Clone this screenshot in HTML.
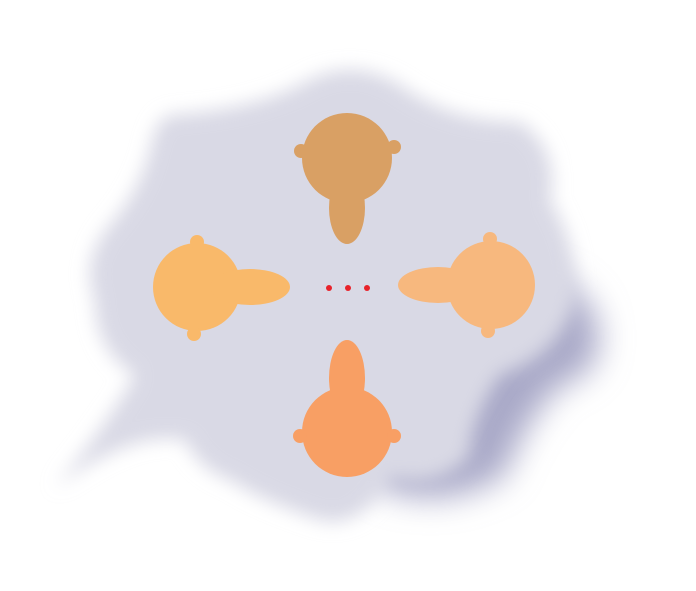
<!DOCTYPE html>
<html><head><meta charset="utf-8"><style>html,body{margin:0;padding:0;background:#fff}svg{display:block}</style></head>
<body>
<svg width="696" height="591" viewBox="0 0 696 591">
<defs>
<filter id="b" x="-20%" y="-20%" width="140%" height="140%"><feGaussianBlur stdDeviation="9"/></filter>
<filter id="b2" x="-20%" y="-20%" width="140%" height="140%"><feGaussianBlur stdDeviation="16"/></filter>
</defs>
<g>
<path filter="url(#b2)" fill="#a9a9c8" d="M410 300 Q560 240 595 315 Q612 370 560 385 Q525 420 505 475 Q440 515 375 485 Q350 400 410 300Z"/>
<path filter="url(#b)" fill="#d9d9e5" d="M170 115 Q250 110 300 85 Q350 55 400 85 Q450 122 520 122 Q560 150 550 200 Q580 250 575 300 Q560 355 500 375 Q470 420 470 455 Q440 490 390 478 Q360 530 320 520 Q260 500 230 480 Q200 470 185 440 Q130 430 55 488 Q110 420 135 375 Q95 350 95 300 Q80 260 110 225 Q140 190 150 150 Q155 120 170 115Z"/>
</g>
<g fill="#d9a064">
<circle cx="347" cy="158" r="45"/><circle cx="301" cy="151" r="7"/><circle cx="394" cy="147" r="7"/>
<ellipse cx="347" cy="208" rx="18" ry="36"/>
</g>
<g fill="#f9b96a">
<circle cx="197" cy="287" r="44"/><circle cx="197" cy="242" r="7"/><circle cx="194" cy="334" r="7"/>
<ellipse cx="250" cy="287" rx="40" ry="18"/>
</g>
<g fill="#f7b87e">
<circle cx="491" cy="285" r="44"/><circle cx="490" cy="239" r="7"/><circle cx="488" cy="331" r="7"/>
<ellipse cx="438" cy="285" rx="40" ry="18"/>
</g>
<g fill="#f89f64">
<circle cx="347" cy="432" r="45"/><circle cx="300" cy="436" r="7"/><circle cx="394" cy="436" r="7"/>
<ellipse cx="347" cy="378" rx="18" ry="38"/>
</g>
<g fill="#e8222a">
<circle cx="329" cy="288" r="3"/><circle cx="348" cy="288" r="3"/><circle cx="367" cy="288" r="3"/>
</g>
</svg>
</body></html>
